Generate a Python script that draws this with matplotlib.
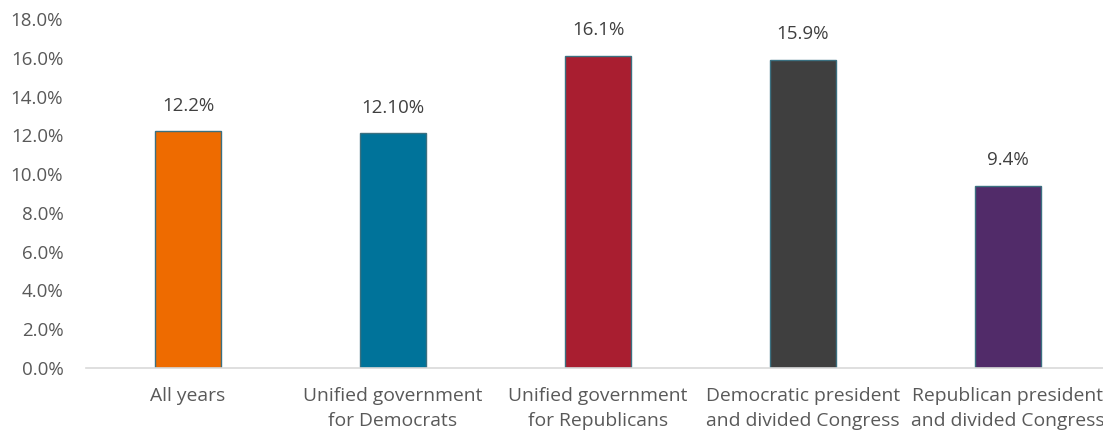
import matplotlib
matplotlib.use("Agg")
import matplotlib.pyplot as plt
from matplotlib.ticker import FuncFormatter

plt.rcParams['font.family'] = ['Open Sans', 'DejaVu Sans']

categories = ["All years", "Unified government\nfor Democrats", "Unified government\nfor Republicans",
              "Democratic president\nand divided Congress", "Republican president\nand divided Congress"]
values = [12.2, 12.1, 16.1, 15.9, 9.4]
value_labels = ["12.2%", "12.10%", "16.1%", "15.9%", "9.4%"]
colors = ["#EE6B00", "#00739A", "#A91E30", "#3F3F3F", "#512B69"]

fig = plt.figure(figsize=(11.03, 4.34), dpi=100)
ax = fig.add_axes([85.5 / 1103, 66 / 434, 1025 / 1103, 349 / 434])

x = range(len(categories))
ax.bar(x, values, width=0.32, color=colors, edgecolor="#3B7080", linewidth=1)

for i, (v, lab) in enumerate(zip(values, value_labels)):
    ax.text(i, v + 0.85, lab, ha="center", va="bottom", fontsize=13.5, color="#404040")

ax.set_xlim(-0.5, 4.5)
ax.set_ylim(0, 18)
ax.set_yticks(range(0, 19, 2))
ax.yaxis.set_major_formatter(FuncFormatter(lambda v, p: f"{v:.1f}%"))
ax.set_xticks(list(x))
ax.set_xticklabels(categories, fontsize=13.9, color="#595959", linespacing=1.45)
ax.tick_params(axis="y", labelsize=13.5, labelcolor="#595959", length=0, pad=16)
ax.tick_params(axis="x", length=0, pad=14)

for s in ["top", "right", "left"]:
    ax.spines[s].set_visible(False)
ax.spines["bottom"].set_color("#D9D9D9")
ax.spines["bottom"].set_linewidth(1.2)

fig.savefig("out.png", dpi=100)
